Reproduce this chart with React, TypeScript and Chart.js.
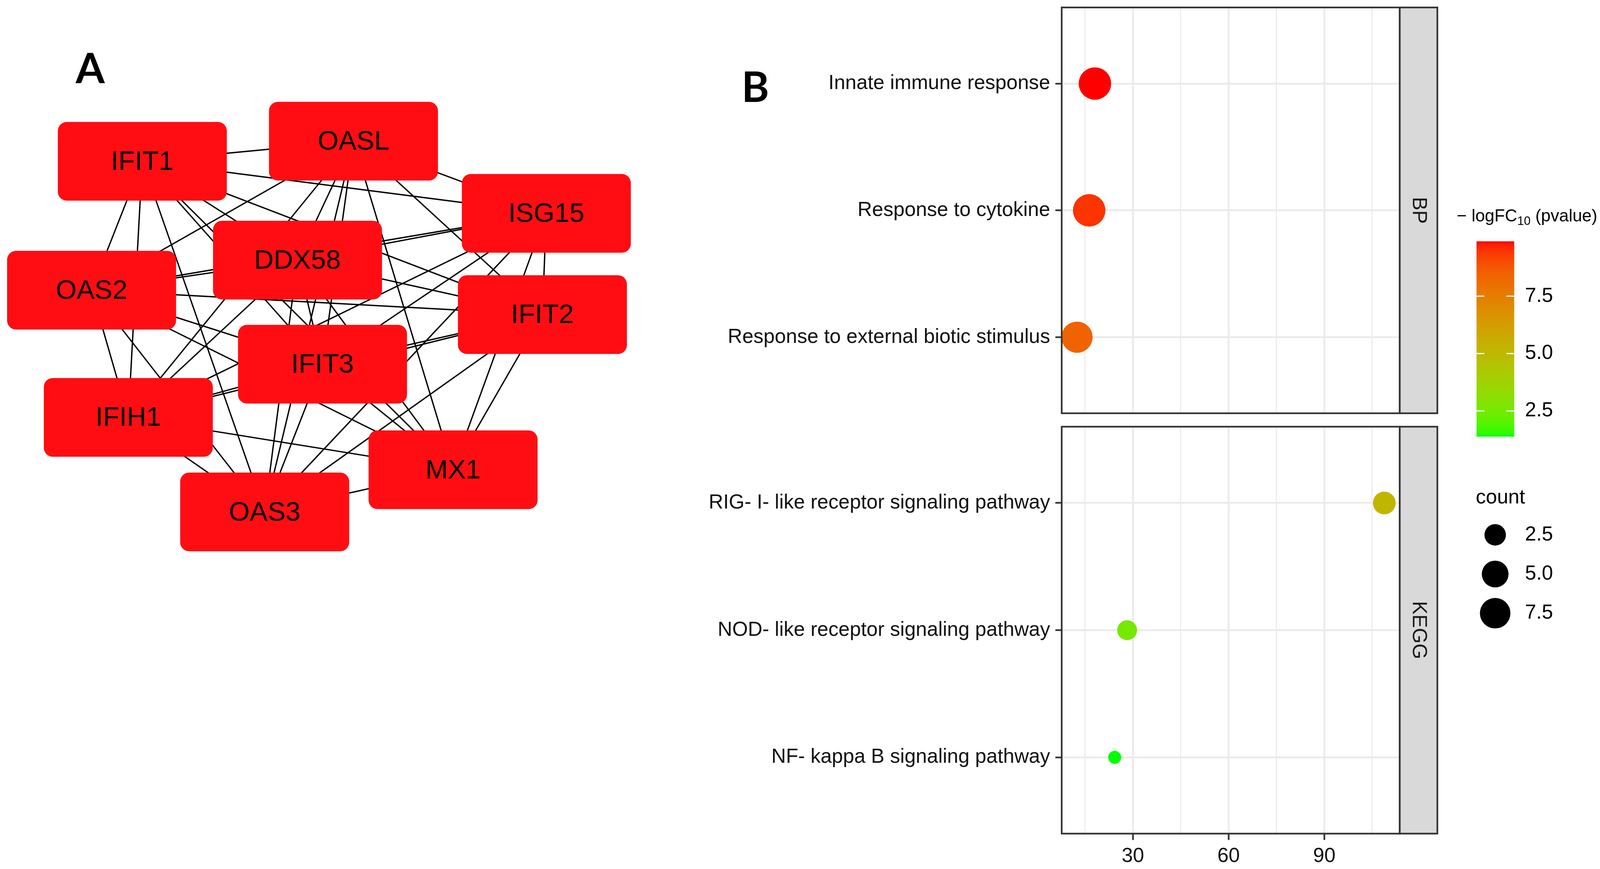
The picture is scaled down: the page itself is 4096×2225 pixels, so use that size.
import React, { useEffect, useRef } from "react";
import { Chart, registerables } from "chart.js";

Chart.register(...registerables);

// ---------------- page geometry ----------------
const S = 0.955;
const W = 4096;
const H = 2225;
const s = (v: number) => v * S;

const FONT = "'Liberation Sans', Arial, Helvetica, sans-serif";
const BOLD_FONT = "Lato, 'Open Sans', 'Liberation Sans', sans-serif";

// ---------------- Panel A : interaction network ----------------
const geneNames = ["IFIT1", "OASL", "ISG15", "DDX58", "OAS2", "IFIT2", "IFIT3", "IFIH1", "MX1", "OAS3"];
// layout coordinates of node centres (network layout units)
const geneLayoutX = [3.815, 9.475, 14.645, 7.975, 2.455, 14.54, 8.645, 3.44, 12.145, 7.095];
const geneLayoutY = [4.325, 3.785, 5.72, 6.975, 7.78, 8.435, 9.765, 11.19, 12.595, 13.725];
const interactions: [string, string][] = [
  ["IFIT1", "OASL"], ["IFIT1", "ISG15"], ["IFIT1", "DDX58"], ["IFIT1", "OAS2"], ["IFIT1", "IFIT2"],
  ["IFIT1", "IFIT3"], ["IFIT1", "IFIH1"], ["IFIT1", "MX1"], ["IFIT1", "OAS3"],
  ["OASL", "ISG15"], ["OASL", "DDX58"], ["OASL", "OAS2"], ["OASL", "IFIT2"], ["OASL", "IFIT3"],
  ["OASL", "IFIH1"], ["OASL", "MX1"], ["OASL", "OAS3"],
  ["ISG15", "DDX58"], ["ISG15", "OAS2"], ["ISG15", "IFIT2"], ["ISG15", "IFIT3"], ["ISG15", "IFIH1"],
  ["ISG15", "MX1"], ["ISG15", "OAS3"],
  ["DDX58", "OAS2"], ["DDX58", "IFIT2"], ["DDX58", "IFIT3"], ["DDX58", "IFIH1"], ["DDX58", "MX1"], ["DDX58", "OAS3"],
  ["OAS2", "IFIT2"], ["OAS2", "IFIT3"], ["OAS2", "IFIH1"], ["OAS2", "MX1"], ["OAS2", "OAS3"],
  ["IFIT2", "IFIT3"], ["IFIT2", "IFIH1"], ["IFIT2", "MX1"], ["IFIT2", "OAS3"],
  ["IFIT3", "IFIH1"], ["IFIT3", "MX1"], ["IFIT3", "OAS3"],
  ["IFIH1", "MX1"], ["IFIH1", "OAS3"],
  ["MX1", "OAS3"],
];

// ---------------- Panel B : enrichment dot plot ----------------
const bpTerms = ["Innate immune response", "Response to cytokine", "Response to external biotic stimulus"];
const bpX = [18.1, 16.3, 12.5];
const bpCount = [9, 9, 8];
const bpScore = [9.89, 9.45, 8.4];

const keggTerms = ["RIG- I- like receptor signaling pathway", "NOD- like receptor signaling pathway", "NF- kappa B signaling pathway"];
const keggX = [108.8, 28.2, 24.3];
const keggCount = [3, 2, 1];
const keggScore = [5.2, 2.55, 1.39];

const xMajorTicks = [30, 60, 90];
const xMinorTicks = [15, 45, 75, 105];
const colorLegendTicks = [2.5, 5.0, 7.5];
const sizeLegendTicks = [2.5, 5.0, 7.5];

// ---------------- scales ----------------
const xAll = [...bpX, ...keggX];
const xLo = Math.min(...xAll);
const xHi = Math.max(...xAll);
const X_MIN = xLo - (xHi - xLo) * 0.05;
const X_MAX = xHi + (xHi - xLo) * 0.05;

const scoreAll = [...bpScore, ...keggScore];
const pMin = Math.min(...scoreAll);
const pMax = Math.max(...scoreAll);

const countAll = [...bpCount, ...keggCount];
const cMin = Math.min(...countAll);
const cMax = Math.max(...countAll);
const SIZE_RANGE = [35, 87]; // point diameters (reference px)

function pointRadius(c: number) {
  const t = Math.max(0, (c - cMin) / (cMax - cMin));
  return s((SIZE_RANGE[0] + (SIZE_RANGE[1] - SIZE_RANGE[0]) * Math.sqrt(t)) / 2);
}

// Lab interpolation green -> red (like ggplot's scale_colour_gradient)
const toLin = (c: number) => { c /= 255; return c <= 0.04045 ? c / 12.92 : Math.pow((c + 0.055) / 1.055, 2.4); };
const fromLin = (c: number) => {
  const v = c <= 0.0031308 ? 12.92 * c : 1.055 * Math.pow(Math.max(c, 0), 1 / 2.4) - 0.055;
  return Math.round(Math.min(1, Math.max(0, v)) * 255);
};
const WX = 0.95047, WY = 1.0, WZ = 1.08883;
const fLab = (t: number) => (t > 216 / 24389 ? Math.cbrt(t) : ((24389 / 27) * t + 16) / 116);
const fInv = (t: number) => (t > 6 / 29 ? t * t * t : (116 * t - 16) / (24389 / 27));
function rgbToLab(r: number, g: number, b: number) {
  const R = toLin(r), G = toLin(g), B = toLin(b);
  const X = 0.4124 * R + 0.3576 * G + 0.1805 * B;
  const Y = 0.2126 * R + 0.7152 * G + 0.0722 * B;
  const Z = 0.0193 * R + 0.1192 * G + 0.9505 * B;
  const fx = fLab(X / WX), fy = fLab(Y / WY), fz = fLab(Z / WZ);
  return [116 * fy - 16, 500 * (fx - fy), 200 * (fy - fz)];
}
function labToRgb(L: number, a: number, b: number) {
  const fy = (L + 16) / 116, fx = fy + a / 500, fz = fy - b / 200;
  const X = WX * fInv(fx), Y = WY * fInv(fy), Z = WZ * fInv(fz);
  const R = 3.2406 * X - 1.5372 * Y - 0.4986 * Z;
  const G = -0.9689 * X + 1.8758 * Y + 0.0415 * Z;
  const B = 0.0557 * X - 0.204 * Y + 1.057 * Z;
  return `rgb(${fromLin(R)},${fromLin(G)},${fromLin(B)})`;
}
const LAB_LOW = rgbToLab(0, 255, 0);
const LAB_HIGH = rgbToLab(255, 0, 0);
function colorScale(v: number) {
  const t = Math.min(1, Math.max(0, (v - pMin) / (pMax - pMin)));
  return labToRgb(
    LAB_LOW[0] + (LAB_HIGH[0] - LAB_LOW[0]) * t,
    LAB_LOW[1] + (LAB_HIGH[1] - LAB_LOW[1]) * t,
    LAB_LOW[2] + (LAB_HIGH[2] - LAB_LOW[2]) * t
  );
}

// ---------------- style constants ----------------
const NODE_W = 4.53;
const NODE_H = 2.11;
const NODE_FILL = "#FF0D13";
const PANEL_LEFT = 2846;
const PANEL_RIGHT = 3752;
const STRIP_RIGHT = 3853;
const BORDER = "#333333";
const GRID = "#EBEBEB";
const TEXT = "#111111";
const TOP_OFFSET = 60; // extra canvas room above the top facet

// ---------------- network chart ----------------
function networkConfig(): any {
  const idx = (n: string) => geneNames.indexOf(n);
  const edgeSets = interactions.map(([a, b]) => ({
    data: [
      { x: geneLayoutX[idx(a)], y: geneLayoutY[idx(a)] },
      { x: geneLayoutX[idx(b)], y: geneLayoutY[idx(b)] },
    ],
    showLine: true,
    borderColor: "#000000",
    borderWidth: s(3.6),
    pointRadius: 0,
    pointHoverRadius: 0,
  }));
  const nodePlugin = {
    id: "nodes",
    afterDatasetsDraw(chart: any) {
      const { ctx } = chart;
      const xs = chart.scales.x, ys = chart.scales.y;
      ctx.save();
      geneNames.forEach((g, i) => {
        const x0 = xs.getPixelForValue(geneLayoutX[i] - NODE_W / 2);
        const x1 = xs.getPixelForValue(geneLayoutX[i] + NODE_W / 2);
        const y0 = ys.getPixelForValue(geneLayoutY[i] - NODE_H / 2);
        const y1 = ys.getPixelForValue(geneLayoutY[i] + NODE_H / 2);
        ctx.beginPath();
        ctx.fillStyle = NODE_FILL;
        ctx.roundRect(Math.min(x0, x1), Math.min(y0, y1), Math.abs(x1 - x0), Math.abs(y1 - y0), s(24));
        ctx.fill();
        ctx.fillStyle = "#000000";
        ctx.font = `${s(72)}px ${FONT}`;
        ctx.textAlign = "center";
        ctx.textBaseline = "middle";
        ctx.fillText(g, xs.getPixelForValue(geneLayoutX[i]), ys.getPixelForValue(geneLayoutY[i]) + s(3));
      });
      ctx.fillStyle = "#000000";
      ctx.font = `bold ${s(112)}px ${BOLD_FONT}`;
      ctx.textAlign = "left";
      ctx.textBaseline = "alphabetic";
      ctx.fillText("A", s(203), s(223));
      ctx.restore();
    },
  };
  return {
    type: "scatter",
    data: { datasets: edgeSets },
    options: {
      responsive: false,
      animation: false,
      devicePixelRatio: 1,
      events: [],
      layout: { padding: { left: 0, top: 0, right: W - s(1800), bottom: H - s(1560) } },
      plugins: { legend: { display: false }, tooltip: { enabled: false } },
      scales: {
        x: { type: "linear", min: 0, max: 18, display: false },
        y: { type: "linear", min: 0, max: 15.6, reverse: true, display: false },
      },
    },
    plugins: [nodePlugin],
  };
}

// ---------------- facet charts ----------------
function facetDecor(label: string) {
  return {
    id: "facetDecor",
    afterDatasetsDraw(chart: any) {
      const { ctx, chartArea: a } = chart;
      const sx1 = s(STRIP_RIGHT);
      ctx.save();
      ctx.fillStyle = "#D9D9D9";
      ctx.fillRect(a.right, a.top, sx1 - a.right, a.bottom - a.top);
      ctx.lineWidth = s(4.5);
      ctx.strokeStyle = BORDER;
      ctx.strokeRect(a.left, a.top, a.right - a.left, a.bottom - a.top);
      ctx.strokeRect(a.right, a.top, sx1 - a.right, a.bottom - a.top);
      ctx.translate((a.right + sx1) / 2, (a.top + a.bottom) / 2);
      ctx.rotate(Math.PI / 2);
      ctx.fillStyle = "#1A1A1A";
      ctx.font = `${s(54)}px ${FONT}`;
      ctx.textAlign = "center";
      ctx.textBaseline = "middle";
      ctx.fillText(label, 0, 0);
      ctx.restore();
    },
  };
}

const panelLabelB = {
  id: "labelB",
  afterDraw(chart: any) {
    const { ctx } = chart;
    ctx.save();
    ctx.fillStyle = "#000000";
    ctx.font = `bold ${s(112)}px ${BOLD_FONT}`;
    ctx.textAlign = "left";
    ctx.textBaseline = "alphabetic";
    ctx.fillText("B", s(1988), s(273) + TOP_OFFSET);
    ctx.restore();
  },
};

const guidesPlugin = {
  id: "guides",
  afterDraw(chart: any) {
    const { ctx } = chart;
    ctx.save();
    ctx.fillStyle = "#000000";
    ctx.textAlign = "left";
    ctx.textBaseline = "alphabetic";
    // colour bar title
    let x = s(3905);
    const yb = s(594);
    ctx.font = `${s(46)}px ${FONT}`;
    const t1 = "\u2212 logFC";
    ctx.fillText(t1, x, yb);
    x += ctx.measureText(t1).width;
    ctx.font = `${s(32)}px ${FONT}`;
    ctx.fillText("10", x, yb + s(9));
    x += ctx.measureText("10").width;
    ctx.font = `${s(46)}px ${FONT}`;
    ctx.fillText(" (pvalue)", x, yb);

    // colour bar
    const bx0 = s(3958), bx1 = s(4059), by0 = s(647), by1 = s(1170);
    const nBins = 300;
    const bh = (by1 - by0) / nBins;
    for (let i = 0; i < nBins; i++) {
      const v = pMin + ((pMax - pMin) * (i + 0.5)) / nBins;
      ctx.fillStyle = colorScale(v);
      ctx.fillRect(bx0, by1 - bh * (i + 1), bx1 - bx0, bh + 0.6);
    }
    const tickLen = s(21);
    ctx.strokeStyle = "#FFFFFF";
    ctx.lineWidth = s(3);
    ctx.font = `${s(54)}px ${FONT}`;
    ctx.textBaseline = "middle";
    colorLegendTicks.forEach((v) => {
      const y = by1 - ((v - pMin) / (pMax - pMin)) * (by1 - by0);
      ctx.beginPath();
      ctx.moveTo(bx0, y);
      ctx.lineTo(bx0 + tickLen, y);
      ctx.moveTo(bx1 - tickLen, y);
      ctx.lineTo(bx1, y);
      ctx.stroke();
      ctx.fillStyle = "#000000";
      ctx.fillText(v.toFixed(1), s(4088), y);
    });

    // size legend
    ctx.textBaseline = "alphabetic";
    ctx.fillText("count", s(3956), s(1350));
    ctx.textBaseline = "middle";
    sizeLegendTicks.forEach((v, i) => {
      const cy = s(1434 + 105 * i);
      ctx.beginPath();
      ctx.fillStyle = "#000000";
      ctx.arc(s(4008), cy, pointRadius(v), 0, Math.PI * 2);
      ctx.fill();
      ctx.fillText(v.toFixed(1), s(4088), cy);
    });
    ctx.restore();
  },
};

function facetConfig(
  terms: string[], xs: number[], counts: number[], scores: number[],
  top: number, bottom: number, strip: string, showX: boolean, oy: number, extra: any[]
): any {
  const isMajor = (v: number) => xMajorTicks.includes(v);
  return {
    type: "scatter",
    data: {
      datasets: [
        {
          data: terms.map((_, i) => ({ x: xs[i], y: i })),
          pointRadius: (c: any) => pointRadius(counts[c.dataIndex]),
          pointHoverRadius: (c: any) => pointRadius(counts[c.dataIndex]),
          pointBackgroundColor: (c: any) => colorScale(scores[c.dataIndex]),
          pointBorderWidth: 0,
          pointHoverBorderWidth: 0,
        },
      ],
    },
    options: {
      responsive: false,
      animation: false,
      devicePixelRatio: 1,
      events: [],
      layout: {
        padding: { left: 0, top: s(top) + oy, right: W - s(PANEL_RIGHT), bottom: showX ? 0 : H - s(bottom) },
      },
      plugins: { legend: { display: false }, tooltip: { enabled: false } },
      scales: {
        x: {
          type: "linear",
          min: X_MIN,
          max: X_MAX,
          afterBuildTicks: (sc: any) => {
            sc.ticks = [...xMinorTicks, ...xMajorTicks].sort((a, b) => a - b).map((v) => ({ value: v }));
          },
          afterFit: (sc: any) => {
            sc.height = showX ? H - s(bottom) : 0;
          },
          ticks: {
            display: showX,
            autoSkip: false,
            maxRotation: 0,
            padding: s(44),
            color: TEXT,
            font: { family: FONT, size: s(54), lineHeight: 0.01 },
            callback: (v: number) => (isMajor(v) ? String(v) : ""),
          },
          grid: {
            color: GRID,
            lineWidth: (c: any) => (c.tick && isMajor(c.tick.value) ? s(5) : s(2.8)),
            drawTicks: showX,
            tickLength: s(17),
            tickWidth: s(4.5),
            tickColor: (c: any) => (c.tick && isMajor(c.tick.value) ? BORDER : "rgba(0,0,0,0)"),
          },
          border: { display: false },
        },
        y: {
          type: "linear",
          min: -0.6,
          max: terms.length - 1 + 0.6,
          reverse: true,
          afterBuildTicks: (sc: any) => {
            sc.ticks = terms.map((_, i) => ({ value: i }));
          },
          afterFit: (sc: any) => {
            sc.width = s(PANEL_LEFT);
          },
          ticks: {
            autoSkip: false,
            padding: s(14),
            color: TEXT,
            font: { family: FONT, size: s(54), lineHeight: 0.01 },
            callback: (v: number) => terms[v] ?? "",
          },
          grid: {
            color: GRID,
            lineWidth: s(5),
            drawTicks: true,
            tickLength: s(17),
            tickWidth: s(4.5),
            tickColor: BORDER,
          },
          border: { display: false },
        },
      },
    },
    plugins: [facetDecor(strip), ...extra],
  };
}

export default function App() {
  const netRef = useRef<HTMLCanvasElement | null>(null);
  const bpRef = useRef<HTMLCanvasElement | null>(null);
  const keggRef = useRef<HTMLCanvasElement | null>(null);

  useEffect(() => {
    const charts = [
      new Chart(netRef.current as any, networkConfig()),
      new Chart(bpRef.current as any, facetConfig(bpTerms, bpX, bpCount, bpScore, 20, 1108, "BP", false, TOP_OFFSET, [panelLabelB])),
      new Chart(keggRef.current as any, facetConfig(keggTerms, keggX, keggCount, keggScore, 1144, 2235, "KEGG", true, 0, [guidesPlugin])),
    ];
    return () => charts.forEach((c) => c.destroy());
  }, []);

  const cstyle: React.CSSProperties = { position: "absolute", left: 0, top: 0, width: W, height: H };
  const topStyle: React.CSSProperties = { position: "absolute", left: 0, top: -TOP_OFFSET, width: W, height: H + TOP_OFFSET };
  return (
    <div style={{ position: "absolute", left: 0, top: 0, width: W, height: H, background: "#ffffff", overflow: "hidden" }}>
      <canvas ref={netRef} width={W} height={H} style={cstyle} />
      <canvas ref={bpRef} width={W} height={H + TOP_OFFSET} style={topStyle} />
      <canvas ref={keggRef} width={W} height={H} style={cstyle} />
    </div>
  );
}
